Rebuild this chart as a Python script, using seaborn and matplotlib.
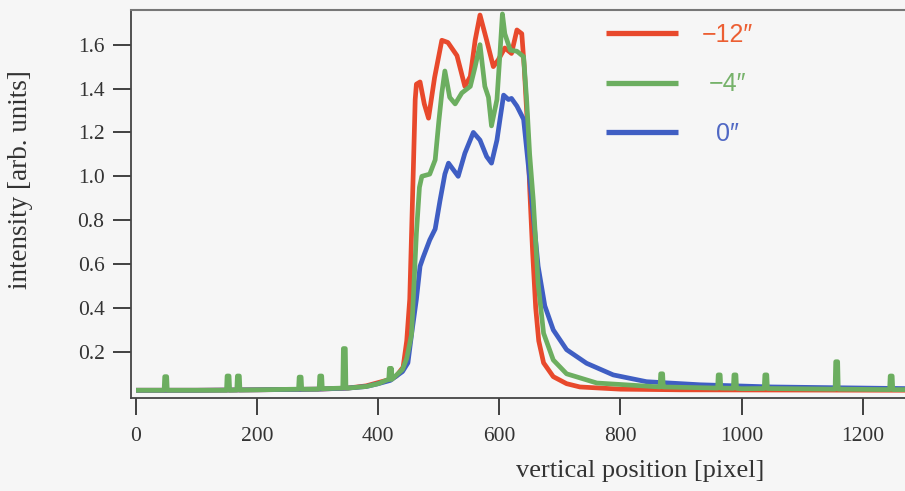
import numpy as np
import pandas as pd
import matplotlib
matplotlib.use("Agg")
import matplotlib.pyplot as plt
import seaborn as sns

# ---- intensity profiles along the slit (pixel, arb. units) ----
red_x = [0, 100, 200, 300, 350, 380, 400, 420, 430, 441, 447, 452, 458, 461, 463, 469,
         476, 483, 493, 505, 515, 530, 543, 552, 560, 568, 579, 590, 598, 609, 620, 629,
         637, 641, 646, 650, 655, 660, 665, 673, 689, 711, 733, 800, 900, 1290]
red_y = [0.025, 0.025, 0.027, 0.03, 0.035, 0.045, 0.06, 0.075, 0.09, 0.13, 0.25, 0.44, 1.04,
         1.35, 1.42, 1.43, 1.33, 1.265, 1.45, 1.62, 1.61, 1.55, 1.41, 1.455, 1.62, 1.735,
         1.62, 1.50, 1.53, 1.585, 1.56, 1.667, 1.65, 1.50, 1.25, 0.95, 0.65, 0.40, 0.25,
         0.15, 0.087, 0.055, 0.04, 0.03, 0.027, 0.025]

green_x = [0, 100, 200, 300, 350, 380, 400, 420, 440, 447, 455, 463, 468, 472, 485, 494,
           500, 505, 510, 518, 527, 538, 552, 560, 568, 576, 582, 587, 596, 601, 605, 609,
           618, 629, 640, 645, 650, 656, 664, 673, 689, 711, 761, 871, 1000, 1290]
green_y = [0.025, 0.025, 0.027, 0.03, 0.035, 0.042, 0.055, 0.075, 0.12, 0.17, 0.28, 0.74,
           0.95, 1.0, 1.01, 1.075, 1.25, 1.38, 1.48, 1.36, 1.33, 1.38, 1.41, 1.50, 1.60,
           1.41, 1.36, 1.23, 1.35, 1.56, 1.74, 1.65, 1.575, 1.57, 1.545, 1.35, 1.10, 0.89,
           0.51, 0.285, 0.163, 0.10, 0.058, 0.04, 0.032, 0.028]

# narrow cosmic-ray hits on the -4" frame: position, local floor, peak
spike_x = [49, 152, 169, 271, 305, 344, 420, 868, 963, 989, 1040, 1157, 1247]
spike_base = [0.025, 0.025, 0.026, 0.03, 0.032, 0.035, 0.075, 0.04, 0.035, 0.034, 0.033, 0.03, 0.028]
spike_top = [0.087, 0.09, 0.09, 0.085, 0.09, 0.215, 0.125, 0.10, 0.095, 0.095, 0.095, 0.155, 0.09]

blue_x = [0, 100, 200, 300, 350, 380, 400, 420, 440, 449, 455, 463, 469, 474, 485, 494,
          502, 510, 516, 524, 532, 543, 557, 568, 579, 587, 596, 601, 607, 615, 620, 629,
          640, 648, 656, 664, 675, 689, 711, 744, 788, 843, 931, 1050, 1290]
blue_y = [0.025, 0.025, 0.027, 0.03, 0.035, 0.042, 0.055, 0.07, 0.11, 0.15, 0.28, 0.44, 0.59,
          0.63, 0.71, 0.76, 0.89, 1.01, 1.06, 1.03, 1.0, 1.105, 1.20, 1.165, 1.09, 1.06,
          1.165, 1.26, 1.37, 1.35, 1.355, 1.32, 1.26, 1.045, 0.82, 0.59, 0.41, 0.30, 0.21,
          0.148, 0.095, 0.064, 0.05, 0.04, 0.032]

labels = ["\u221212\u2033", "\u22124\u2033", "0\u2033"]
colors = ["#e8492c", "#6cae60", "#3f5ec3"]
text_colors = ["#ec5f33", "#76b26a", "#5068c4"]

x_ticks = [0, 200, 400, 600, 800, 1000, 1200]
y_ticks = [0.2, 0.4, 0.6, 0.8, 1.0, 1.2, 1.4, 1.6]


def add_spikes(xs, ys):
    pts = list(zip(xs, ys))
    for sx, sb, st in zip(spike_x, spike_base, spike_top):
        pts += [(sx - 2.6, sb), (sx - 1.6, st), (sx + 1.6, st), (sx + 2.6, sb)]
    pts.sort(key=lambda p: p[0])
    return [p[0] for p in pts], [p[1] for p in pts]


gx, gy = add_spikes(green_x, green_y)

frames = [
    pd.DataFrame({"pos": red_x, "val": red_y, "frame": labels[0]}),
    pd.DataFrame({"pos": gx, "val": gy, "frame": labels[1]}),
    pd.DataFrame({"pos": blue_x, "val": blue_y, "frame": labels[2]}),
]

sns.set_theme(style="ticks")
bg = "#f6f6f6"
plt.rcParams["font.family"] = ["Liberation Serif", "DejaVu Serif"]

fig = plt.figure(figsize=(9.05, 4.91), dpi=100, facecolor=bg)
# axes run slightly past the right edge of the canvas
AX_L, AX_R, AX_T, AX_B = 131, 918, 10, 397.5
ax = fig.add_axes([AX_L / 905, 1 - AX_B / 491, (AX_R - AX_L) / 905, (AX_B - AX_T) / 491])
ax.set_facecolor(bg)
aw, ah = AX_R - AX_L, AX_B - AX_T

# draw order: red, blue, then green on top
for i in (0, 2, 1):
    sns.lineplot(data=frames[i], x="pos", y="val", color=colors[i], linewidth=3.4,
                 estimator=None, sort=False, ax=ax, label=labels[i], solid_capstyle="butt")

ax.set_xlim(-8.3, (AX_R - 136) / 0.6056)
ax.set_ylim(-0.008, 1.758)
ax.set_xticks(x_ticks)
ax.set_xticklabels([str(t) for t in x_ticks])
ax.set_yticks(y_ticks)
ax.set_yticklabels([f"{t:.1f}" for t in y_ticks])

ax.tick_params(axis="both", direction="out", colors="#333333", labelcolor="#333333",
               labelsize=15.5, width=1.3)
ax.tick_params(axis="y", length=13, pad=6)
ax.tick_params(axis="x", length=12, pad=9)

for s in ("left", "bottom"):
    ax.spines[s].set_color("#444444")
    ax.spines[s].set_linewidth(1.3)
ax.spines["top"].set_visible(True)
ax.spines["top"].set_color("#777777")
ax.spines["top"].set_linewidth(1.5)
ax.spines["right"].set_visible(False)

ax.set_xlabel("vertical position [pixel]", fontsize=19, color="#333333")
ax.set_ylabel("intensity [arb. units]", fontsize=19.5, color="#333333")
ax.xaxis.set_label_coords((640 - AX_L) / aw, -62 / ah)
ax.yaxis.set_label_coords(-(AX_L - 33) / aw, (AX_B - 180) / ah)

# legend in red, green, blue order
handles, labs = ax.get_legend_handles_labels()
order = [labs.index(l) for l in labels]
leg = ax.legend([handles[k] for k in order], [labs[k] for k in order],
                loc="upper left", bbox_to_anchor=((598 - AX_L) / aw, 1 - 5 / ah),
                frameon=False, handlelength=2.9, handletextpad=0.95, labelspacing=1.03,
                borderaxespad=0.0, borderpad=0.3,
                prop={"family": ["Liberation Sans Narrow", "Liberation Sans", "DejaVu Sans"],
                      "size": 18})
for line in leg.get_lines():
    line.set_linewidth(3.8)

renderer = fig.canvas.get_renderer()
widths = [t.get_window_extent(renderer).width for t in leg.get_texts()]
wmax = max(widths)
for t, c, w in zip(leg.get_texts(), text_colors, widths):
    t.set_color(c)
    t.set_x((wmax - w) / 2)

fig.savefig("out.png", dpi=100, facecolor=bg)
